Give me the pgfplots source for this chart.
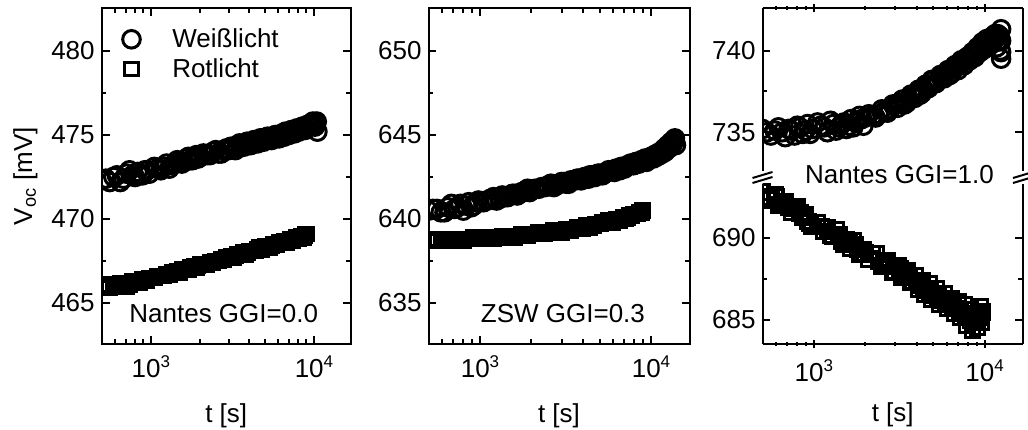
\documentclass[border=0pt]{standalone}
\usepackage{fontspec}
\setmainfont{Liberation Sans}
\usepackage{pgfplots}
\pgfplotsset{compat=1.18}
\usepackage{pgfplotstable}

\pgfplotstableread{
t v
500 472.3
530 472.4
560 472.2
590 472.5
620 472.6
650 472.2
680 472.4
710 472.7
740 472.9
770 472.6
800 472.5
830 472.8
860 472.6
890 472.6
920 472.9
950 472.9
980 472.7
1050 473.1
1100 473.0
1150 472.9
1200 473.1
1250 473.3
1300 473.0
1350 473.2
1400 473.3
1450 473.5
1500 473.4
1550 473.3
1600 473.4
1650 473.6
1700 473.7
1750 473.5
1800 473.5
1850 473.7
1900 473.8
1950 473.6
2000 473.7
2100 473.9
2200 473.8
2300 473.8
2400 474.0
2500 474.1
2600 473.9
2700 473.9
2800 474.1
2900 474.2
3000 474.1
3100 474.3
3200 474.3
3300 474.1
3400 474.3
3500 474.5
3600 474.4
3700 474.3
3800 474.5
3900 474.6
4000 474.4
4100 474.4
4200 474.6
4300 474.7
4400 474.6
4500 474.5
4600 474.6
4700 474.8
4800 474.8
4900 474.6
5050 474.7
5200 474.9
5350 474.8
5500 474.7
5650 474.9
5800 475.0
5950 474.9
6100 474.8
6250 475.0
6400 475.1
6550 474.9
6700 475.2
6850 475.1
7000 475.0
7150 475.2
7300 475.3
7450 475.2
7600 475.1
7750 475.3
7900 475.4
8050 475.2
8200 475.3
8350 475.4
8500 475.5
8650 475.5
8800 475.3
8950 475.4
9100 475.6
9250 475.5
9400 475.5
9550 475.6
9700 475.7
9850 475.8
10000 475.6
10150 475.5
10300 475.7
10400 475.8
10500 475.2
}\whiteA

\pgfplotstableread{
t v
500 466.0
530 466.1
560 465.9
590 466.0
620 466.1
650 466.2
680 466.2
710 466.0
740 466.1
770 466.3
800 466.3
830 466.2
860 466.2
890 466.4
920 466.4
950 466.3
980 466.5
1050 466.5
1100 466.6
1150 466.6
1200 466.6
1250 466.7
1300 466.7
1350 466.8
1400 466.8
1450 466.9
1500 466.8
1550 467.0
1600 467.0
1650 467.0
1700 467.0
1750 467.1
1800 467.1
1850 467.2
1900 467.1
1950 467.2
2000 467.3
2100 467.3
2200 467.3
2300 467.4
2400 467.4
2500 467.5
2600 467.5
2700 467.6
2800 467.6
2900 467.7
3000 467.7
3100 467.8
3200 467.7
3300 467.8
3400 467.9
3500 467.9
3600 467.9
3700 468.0
3800 467.9
3900 468.0
4000 468.1
4100 468.1
4200 468.1
4300 468.1
4400 468.1
4500 468.2
4600 468.3
4700 468.3
4800 468.2
4900 468.3
5050 468.4
5200 468.4
5350 468.3
5500 468.4
5650 468.5
5800 468.5
5950 468.5
6100 468.6
6250 468.6
6400 468.6
6550 468.7
6700 468.7
6850 468.6
7000 468.7
7150 468.8
7300 468.8
7450 468.7
7600 468.8
7750 468.9
7900 468.9
8050 468.8
8200 468.9
8350 469.0
8500 469.0
8650 468.9
8800 469.0
8900 469.1
9000 469.1
}\redA

\pgfplotstableread{
t v
500 640.5
530 640.6
560 640.6
590 640.4
620 640.4
650 640.7
680 640.9
710 640.6
740 640.7
770 640.9
800 640.5
830 640.8
860 641.0
890 640.7
920 640.8
950 641.0
980 641.1
1050 641.0
1100 641.1
1150 641.2
1200 641.3
1250 641.1
1300 641.2
1350 641.4
1400 641.3
1450 641.3
1500 641.4
1550 641.5
1600 641.5
1650 641.4
1700 641.5
1750 641.6
1800 641.6
1850 641.7
1900 641.8
1950 641.6
2000 641.7
2100 641.8
2200 641.8
2300 641.9
2400 641.9
2500 642.0
2600 642.1
2700 641.9
2800 642.0
2900 642.1
3000 642.2
3100 642.2
3200 642.1
3300 642.1
3400 642.3
3500 642.3
3600 642.3
3700 642.4
3800 642.4
3900 642.3
4000 642.4
4100 642.5
4200 642.5
4300 642.4
4400 642.6
4500 642.6
4600 642.6
4700 642.5
4800 642.6
4900 642.7
5050 642.7
5200 642.6
5350 642.7
5500 642.8
5650 642.9
5800 642.9
5950 642.9
6100 642.8
6250 643.0
6400 643.0
6550 642.9
6700 643.1
6850 643.1
7000 643.0
7150 643.1
7300 643.2
7450 643.2
7600 643.3
7750 643.3
7900 643.2
8050 643.3
8200 643.4
8350 643.3
8500 643.3
8650 643.4
8800 643.5
8950 643.4
9100 643.5
9250 643.6
9400 643.4
9550 643.5
9700 643.6
9850 643.6
10000 643.7
10150 643.7
10300 643.6
10450 643.8
10600 643.8
10750 643.7
10900 643.9
11050 643.9
11200 643.8
11350 644.0
11500 644.0
11650 643.9
11800 644.1
11950 644.2
12100 644.0
12250 644.1
12400 644.3
12550 644.4
12700 644.2
12850 644.3
13000 644.5
13150 644.6
13300 644.4
13450 644.5
13600 644.7
13800 644.8
14000 644.4
}\whiteB

\pgfplotstableread{
t v
500 638.7
530 638.8
560 638.8
590 638.7
620 638.7
650 638.8
680 638.8
710 638.7
740 638.8
770 638.8
800 638.7
830 638.8
860 638.8
890 638.8
920 638.9
950 638.8
980 638.8
1050 638.9
1100 638.9
1150 638.9
1200 638.8
1250 638.9
1300 638.9
1350 639.0
1400 639.0
1450 638.9
1500 639.0
1550 639.0
1600 638.9
1650 639.0
1700 639.0
1750 639.1
1800 639.1
1850 639.0
1900 639.0
1950 639.1
2000 639.1
2100 639.1
2200 639.2
2300 639.2
2400 639.1
2500 639.2
2600 639.2
2700 639.3
2800 639.3
2900 639.3
3000 639.2
3100 639.3
3200 639.4
3300 639.4
3400 639.3
3500 639.4
3600 639.4
3700 639.5
3800 639.5
3900 639.5
4000 639.4
4100 639.5
4200 639.6
4300 639.6
4400 639.5
4500 639.6
4600 639.6
4700 639.7
4800 639.7
4900 639.7
5050 639.7
5200 639.8
5350 639.8
5500 639.8
5650 639.9
5800 639.9
5950 639.8
6100 639.9
6250 640.0
6400 640.0
6550 639.9
6700 640.0
6850 640.1
7000 640.1
7150 640.0
7300 640.1
7450 640.2
7600 640.2
7750 640.2
7900 640.3
8050 640.3
8200 640.3
8350 640.3
8500 640.4
8650 640.4
8800 640.4
8900 640.5
9000 640.5
}\redB

\pgfplotstableread{
t v
500 735.2
530 735.0
560 734.8
590 735.1
620 735.3
650 735.0
680 734.7
710 735.2
740 735.1
770 734.8
800 735.4
830 735.3
860 734.9
890 735.1
920 735.5
950 734.9
980 735.2
1050 735.6
1100 735.4
1150 735.3
1200 735.0
1250 735.7
1300 735.5
1350 735.1
1400 735.3
1450 735.5
1500 735.6
1550 735.2
1600 735.4
1650 735.8
1700 735.3
1750 735.6
1800 735.7
1850 736.0
1900 735.8
1950 735.4
2000 735.9
2100 736.1
2200 736.0
2300 735.9
2400 736.1
2500 736.4
2600 736.3
2700 736.2
2800 736.4
2900 736.7
3000 736.7
3100 736.5
3200 736.8
3300 737.0
3400 736.7
3500 736.8
3600 737.0
3700 737.3
3800 737.2
3900 737.1
4000 737.4
4100 737.6
4200 737.3
4300 737.4
4400 737.6
4500 737.9
4600 737.8
4700 737.7
4800 737.9
4900 738.2
5050 738.2
5200 738.0
5350 738.2
5500 738.5
5650 738.4
5800 738.3
5950 738.6
6100 738.8
6250 738.5
6400 738.6
6550 738.9
6700 739.1
6850 739.0
7000 738.8
7150 739.1
7300 739.4
7450 739.3
7600 739.1
7750 739.4
7900 739.6
8050 739.5
8200 739.4
8350 739.7
8500 739.9
8650 739.8
8800 739.6
8950 739.9
9100 740.2
9250 740.1
9400 739.9
9550 740.1
9700 740.5
9850 740.4
10000 740.1
10150 740.4
10300 740.7
10450 740.5
10600 740.3
10750 740.6
10900 740.8
11050 740.6
11200 740.5
11350 740.7
11500 741.0
11650 740.8
11800 740.2
11950 741.0
12100 740.6
12250 740.9
12400 740.0
12500 739.5
12500 739.9
12500 740.6
12500 741.3
}\whiteC

\pgfplotstableread{
t v
500 692.8
520 693.3
530 692.5
560 692.3
590 692.6
600 692.5
620 692.0
650 692.1
680 692.2
710 691.9
740 691.6
770 691.8
800 691.9
830 691.5
860 691.3
890 691.4
920 691.0
950 690.9
980 690.7
1050 690.9
1100 690.7
1150 690.4
1200 690.6
1250 690.2
1300 690.1
1350 690.5
1400 690.2
1450 689.8
1500 689.6
1550 689.9
1600 689.7
1650 689.4
1700 689.8
1750 689.6
1800 689.3
1850 689.0
1900 689.0
1950 689.3
2000 689.1
2100 688.7
2200 689.0
2300 689.0
2400 688.6
2500 688.3
2600 688.4
2700 688.6
2800 688.3
2900 687.9
3000 688.0
3100 688.3
3200 688.1
3300 687.6
3400 687.8
3500 688.0
3600 687.6
3700 687.3
3800 687.4
3900 687.7
4000 687.4
4100 686.9
4200 687.1
4300 687.4
4400 686.9
4500 686.6
4600 686.8
4700 687.2
4800 686.7
4900 686.3
5050 686.5
5200 686.9
5350 686.4
5500 686.0
5650 686.2
5800 686.6
5950 686.1
6100 685.7
6250 686.0
6400 686.3
6550 685.9
6700 685.4
6850 685.7
7000 686.1
7150 685.6
7300 685.2
7450 685.4
7600 685.9
7750 685.2
7900 684.7
8050 685.3
8200 685.6
8350 685.0
8500 684.4
8650 684.9
8800 685.3
8950 685.0
9100 684.6
9250 685.2
9400 685.8
9500 684.9
9500 685.3
9700 685.5
}\redC

\newcommand{\tlab}[1]{10\raisebox{5bp}{\fontsize{8.5bp}{8.5bp}\selectfont #1}}
\newcommand{\mainfs}{\fontsize{13bp}{15bp}\selectfont}

\pgfplotsset{
  every axis/.append style={
    scale only axis, anchor=south west,
    xmin=500, xmax=16800,
    xtick={1000,10000},
    xticklabels={{\tlab{3}},{\tlab{4}}},
    minor xtick={600,700,800,900,2000,3000,4000,5000,6000,7000,8000,9000},
    minor y tick num=1,
    tick align=inside,
    major tick length=4bp, minor tick length=2.3bp,
    major tick style={line width=1bp, black},
    minor tick style={line width=1bp, black},
    axis line style={line width=1bp},
    tick label style={font=\mainfs},
    xticklabel style={yshift=-2.5bp},
    label style={font=\mainfs},
    xlabel={t [s]},
    every axis x label/.append style={yshift=-6bp},
    clip marker paths=true,
  },
}

\begin{document}
\begin{tikzpicture}
\path[use as bounding box] (0,0) rectangle (514bp,215bp);

% Panel 1
\begin{semilogxaxis}[at={(50.85bp,43bp)}, width=124.5bp, height=168bp,
  ymin=462.56, ymax=482.56, ytick={465,470,475,480},
  yticklabels={465,470,475,480},
  ylabel={V\textsubscript{oc} [mV]},
  legend style={at={(rel axis cs:0,1)}, anchor=north west, xshift=7.3bp, yshift=-6bp,
    draw=none, fill=none, font=\mainfs, row sep=0bp,
    /tikz/every odd column/.append style={column sep=14bp}},
  legend cell align=left,
]
\addplot[only marks, mark=o, mark size=4.4bp, mark options={draw=black, line width=1.5bp}] table {\whiteA}; \addlegendentry{Weißlicht}
\addplot[only marks, mark=square, mark size=3.4bp, mark options={draw=black, line width=1.5bp}] table {\redA}; \addlegendentry{Rotlicht}
\node[font=\mainfs] at (rel axis cs:0.49,0.092) {Nantes GGI=0.0};
\end{semilogxaxis}

% Panel 2
\begin{semilogxaxis}[at={(214.25bp,43bp)}, width=130.5bp, height=168bp,
  ymin=632.56, ymax=652.56, ytick={635,640,645,650}, yticklabels={635,640,645,650}]
\addplot[only marks, mark=o, mark size=4.4bp, mark options={draw=black, line width=1.5bp}] table {\whiteB};
\addplot[only marks, mark=square, mark size=3.4bp, mark options={draw=black, line width=1.5bp}] table {\redB};
\node[font=\mainfs] at (rel axis cs:0.515,0.092) {ZSW GGI=0.3};
\end{semilogxaxis}

% Panel 3 lower
\begin{semilogxaxis}[at={(381.25bp,43bp)}, width=130.25bp, height=80bp,
  ymin=683.54, ymax=693.29, ytick={685,690}, yticklabels={685,690},
  axis x line=bottom, axis y line=box, x axis line style={-},
  xlabel style={yshift=2.5bp}]
\addplot[only marks, mark=square, mark size=3.7bp, mark options={draw=black, line width=1.5bp}] table {\redC};
\end{semilogxaxis}

% Panel 3 upper
\begin{semilogxaxis}[at={(381.25bp,129.5bp)}, width=130.25bp, height=81.5bp,
  ymin=732.63, ymax=742.6, ytick={735,740}, yticklabels={735,740},
  axis x line=top, axis y line=box, x axis line style={-},
  xticklabels={}, xlabel={}]
\addplot[only marks, mark=o, mark size=4.4bp, mark options={draw=black, line width=1.5bp}] table {\whiteC};
\end{semilogxaxis}

% axis break marks
\foreach \xx in {381.25,511.5}{
  \draw[line width=1bp] (\xx bp-5bp,126bp) -- (\xx bp+5bp,129bp);
  \draw[line width=1bp] (\xx bp-5bp,123.5bp) -- (\xx bp+5bp,126.5bp);
}
\node[font=\mainfs] at (449.75bp,127.5bp) {Nantes GGI=1.0};
\end{tikzpicture}
\end{document}
